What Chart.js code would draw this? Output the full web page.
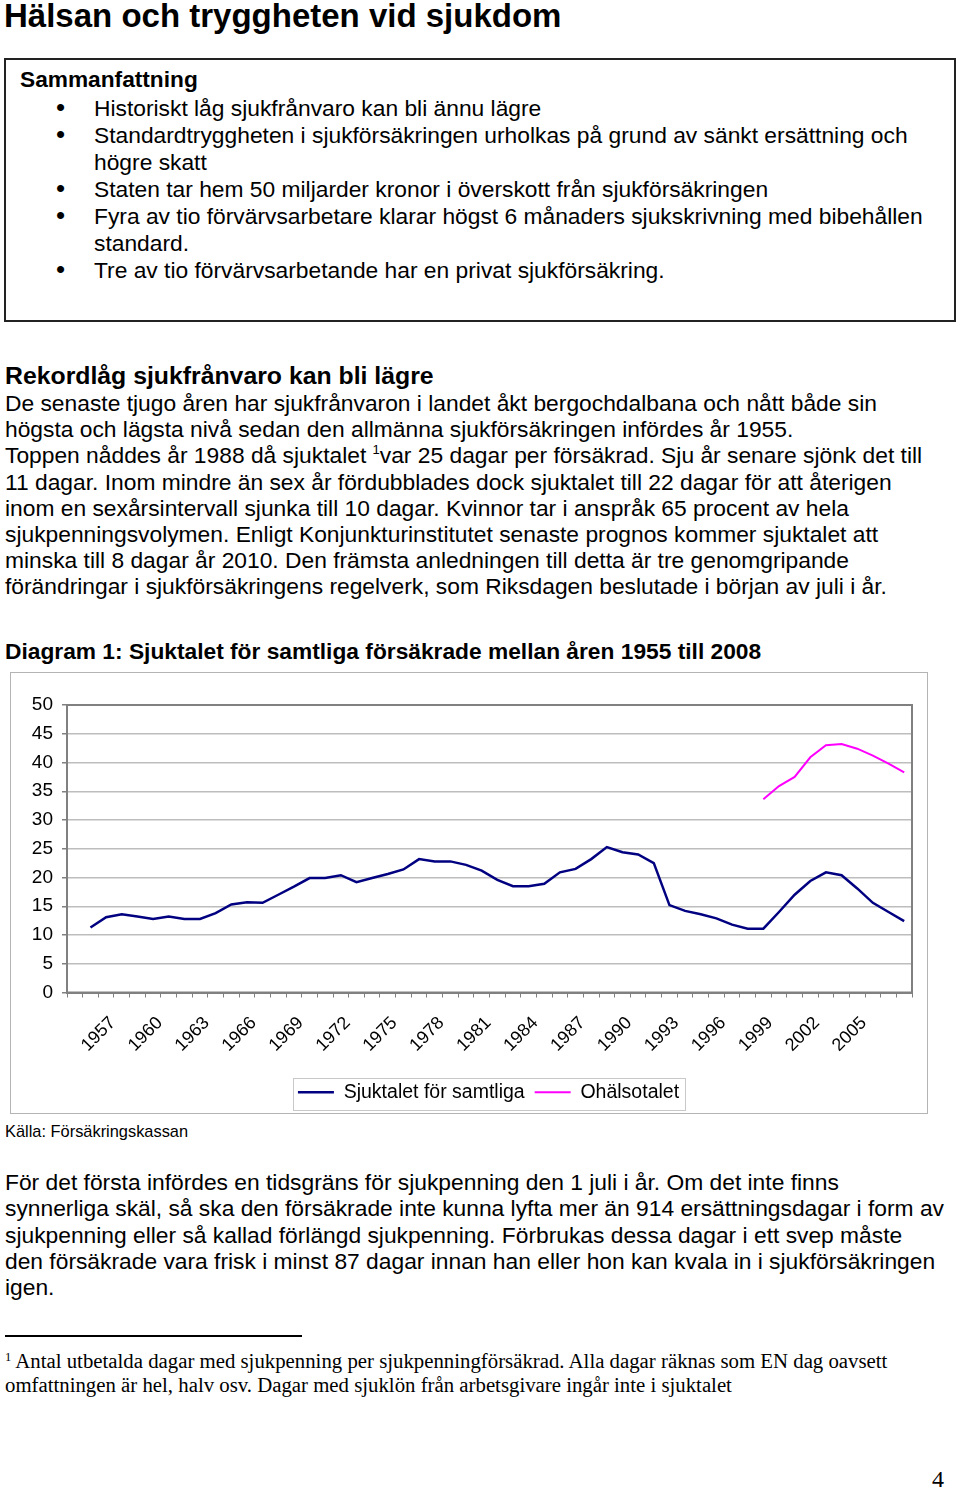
<!DOCTYPE html>
<html lang="sv">
<head>
<meta charset="utf-8">
<title>Hälsan och tryggheten vid sjukdom</title>
<script src="https://cdn.jsdelivr.net/npm/chart.js@4.4.1/dist/chart.umd.min.js"></script>
<style>
  html, body { margin: 0; padding: 0; background: #fff; }
  body { width: 960px; height: 1490px; position: relative; overflow: hidden;
         font-family: "Liberation Sans", Arial, sans-serif; color: #000; }
  .abs { position: absolute; white-space: nowrap; }
  .txt { font-size: 22.8px; line-height: 26.2px; }
  .b { font-weight: bold; }
  sup { font-size: 13px; line-height: 0; vertical-align: 9px; }
  #sammanfattning { left: 4px; top: 58px; width: 952px; height: 264px;
                    box-sizing: border-box; border: 2px solid #222; }
  .bullet { position: absolute; font-size: 26px; }
  #chartram { left: 10px; top: 672px; width: 918px; height: 442px;
              box-sizing: border-box; border: 1px solid #b4b4b4; }
  #chartwrap { position: absolute; left: 11px; top: 673px; width: 916px; height: 440px; }
  .serif { font-family: "Liberation Serif", "Times New Roman", serif; }
</style>
</head>
<body>

<div class="abs b" style="left:4px; top:0px; font-size:33px; line-height:32px;">Hälsan och tryggheten vid sjukdom</div>

<div class="abs" id="sammanfattning"></div>
<div class="abs b" style="left:20px; top:66px; font-size:22.7px; line-height:27px;">Sammanfattning</div>
<div class="abs txt" style="left:94px; top:95px; line-height:27px;">
  <span class="bullet" style="top:-1px; left:-38px;">•</span>Historiskt låg sjukfrånvaro kan bli ännu lägre<br>
  <span class="bullet" style="top:26px; left:-38px;">•</span>Standardtryggheten i sjukförsäkringen urholkas på grund av sänkt ersättning och<br>
  högre skatt<br>
  <span class="bullet" style="top:80px; left:-38px;">•</span>Staten tar hem 50 miljarder kronor i överskott från sjukförsäkringen<br>
  <span class="bullet" style="top:107px; left:-38px;">•</span>Fyra av tio förvärvsarbetare klarar högst 6 månaders sjukskrivning med bibehållen<br>
  standard.<br>
  <span class="bullet" style="top:161px; left:-38px;">•</span>Tre av tio förvärvsarbetande har en privat sjukförsäkring.
</div>

<div class="abs b" style="left:5px; top:362px; font-size:24.8px; line-height:27px;">Rekordlåg sjukfrånvaro kan bli lägre</div>
<div class="abs txt" style="left:5px; top:390px;">
De senaste tjugo åren har sjukfrånvaron i landet åkt bergochdalbana och nått både sin<br>
högsta och lägsta nivå sedan den allmänna sjukförsäkringen infördes år 1955.<br>
Toppen nåddes år 1988 då sjuktalet <sup>1</sup>var 25 dagar per försäkrad. Sju år senare sjönk det till<br>
11 dagar. Inom mindre än sex år fördubblades dock sjuktalet till 22 dagar för att återigen<br>
inom en sexårsintervall sjunka till 10 dagar. Kvinnor tar i anspråk 65 procent av hela<br>
sjukpenningsvolymen. Enligt Konjunkturinstitutet senaste prognos kommer sjuktalet att<br>
minska till 8 dagar år 2010. Den främsta anledningen till detta är tre genomgripande<br>
förändringar i sjukförsäkringens regelverk, som Riksdagen beslutade i början av juli i år.
</div>

<div class="abs b" style="left:5px; top:638px; font-size:22.75px; line-height:27px;">Diagram 1: Sjuktalet för samtliga försäkrade mellan åren 1955 till 2008</div>

<div class="abs" id="chartram"></div>
<div id="chartwrap"><canvas id="myChart" width="916" height="440"></canvas></div>

<div class="abs" style="left:5px; top:1121px; font-size:16.4px; line-height:20px;">Källa: Försäkringskassan</div>

<div class="abs txt" style="left:5px; top:1169px; line-height:26.3px;">
För det första infördes en tidsgräns för sjukpenning den 1 juli i år. Om det inte finns<br>
synnerliga skäl, så ska den försäkrade inte kunna lyfta mer än 914 ersättningsdagar i form av<br>
sjukpenning eller så kallad förlängd sjukpenning. Förbrukas dessa dagar i ett svep måste<br>
den försäkrade vara frisk i minst 87 dagar innan han eller hon kan kvala in i sjukförsäkringen<br>
igen.
</div>

<div class="abs" style="left:5px; top:1335px; width:297px; height:1.5px; background:#000;"></div>
<div class="abs serif" style="left:5px; top:1349px; font-size:20.8px; line-height:24px;">
<sup style="font-size:12.5px; vertical-align:7px;">1</sup> Antal utbetalda dagar med sjukpenning per sjukpenningförsäkrad. Alla dagar räknas som EN dag oavsett<br>
omfattningen är hel, halv osv. Dagar med sjuklön från arbetsgivare ingår inte i sjuktalet
</div>

<div class="abs serif" style="left:932px; top:1466px; font-size:24px; line-height:26px;">4</div>

<script>
// kategorier: första platsen är tom i originalet
const kategorier = ['', '1955', '1956', '1957', '1958', '1959', '1960', '1961', '1962', '1963',
  '1964', '1965', '1966', '1967', '1968', '1969', '1970', '1971', '1972', '1973', '1974',
  '1975', '1976', '1977', '1978', '1979', '1980', '1981', '1982', '1983', '1984', '1985',
  '1986', '1987', '1988', '1989', '1990', '1991', '1992', '1993', '1994', '1995', '1996',
  '1997', '1998', '1999', '2000', '2001', '2002', '2003', '2004', '2005', '2006', '2007'];

// sjuktalet 1955-2007
const sjuktal = [11.3, 13.1, 13.6, 13.2, 12.8, 13.2, 12.8, 12.8, 13.8, 15.3,
  15.7, 15.6, 17.0, 18.4, 19.9, 19.9, 20.4, 19.2, 19.9, 20.6,
  21.4, 23.2, 22.8, 22.8, 22.2, 21.2, 19.6, 18.5, 18.5, 18.9,
  20.9, 21.5, 23.2, 25.3, 24.4, 24.0, 22.5, 15.2, 14.2, 13.6,
  12.9, 11.8, 11.1, 11.1, 14.0, 17.0, 19.4, 20.9, 20.4, 18.1,
  15.6, 14.0, 12.4];

// ohälsotalet 1998-2007
const ohalsoAr = ['1998', '1999', '2000', '2001', '2002', '2003', '2004', '2005', '2006', '2007'];
const ohalsotal = [33.6, 35.9, 37.5, 40.9, 43.0, 43.2, 42.4, 41.2, 39.8, 38.3];

const tickAr = ['1957', '1960', '1963', '1966', '1969', '1972', '1975', '1978', '1981',
  '1984', '1987', '1990', '1993', '1996', '1999', '2002', '2005'];

const sjukPunkter = sjuktal.map((v, i) => ({x: kategorier[i + 1], y: v}));
const ohalsoPunkter = ohalsotal.map((v, i) => ({x: ohalsoAr[i], y: v}));

// legenden sitter lite till höger om mitten i originalet
const legendFlytt = 27;
const legendFont = 19.5;

// ram runt ritytan och legenden
const ramPlugin = {
  id: 'ram',
  afterUpdate(chart) {
    const lg = chart.legend;
    if (!lg) return;
    lg.left += legendFlytt;
    lg.right += legendFlytt;
  },
  afterDraw(chart) {
    const ctx = chart.ctx;
    const a = chart.chartArea;
    ctx.save();
    ctx.strokeStyle = '#808080';
    ctx.lineWidth = 2;
    ctx.strokeRect(a.left, a.top, a.right - a.left, a.bottom - a.top);
    const lg = chart.legend;
    if (lg && lg.lineWidths && lg.lineWidths.length) {
      const pad = lg.options.labels.padding;
      const w = lg.lineWidths[0];
      const x0 = (lg.left + pad + lg.right - w) / 2;
      const l = x0 - 5;
      const r = x0 + w - pad + 6;
      const t = lg.top + pad - 5;
      const b = lg.top + pad + legendFont * 1.2 + 4;
      ctx.strokeStyle = '#c8c8c8';
      ctx.lineWidth = 1;
      ctx.strokeRect(Math.round(l) + 0.5, Math.round(t) + 0.5, Math.round(r - l), Math.round(b - t));
    }
    ctx.restore();
  }
};

var ctx = document.getElementById('myChart').getContext('2d');

var myChart = new Chart(ctx, {
  type: 'line',
  data: {
    labels: kategorier,
    datasets: [{
      label: 'Sjuktalet för samtliga',
      data: sjukPunkter,
      borderColor: '#000080',
      backgroundColor: '#000080',
      borderWidth: 2.5,
      pointRadius: 0,
      tension: 0
    }, {
      label: 'Ohälsotalet',
      data: ohalsoPunkter,
      borderColor: '#ff00ff',
      backgroundColor: '#ff00ff',
      borderWidth: 2,
      pointRadius: 0,
      tension: 0
    }]
  },
  options: {
    responsive: false,
    animation: false,
    layout: { padding: { left: 0, right: 15, top: 32, bottom: 1 } },
    plugins: {
      tooltip: { enabled: false },
      legend: {
        position: 'bottom',
        labels: {
          color: '#000',
          font: { family: 'Liberation Sans', size: legendFont },
          usePointStyle: true,
          pointStyle: 'line',
          pointStyleWidth: 36,
          padding: 10
        }
      }
    },
    scales: {
      x: {
        offset: true,
        afterFit: (s) => { s.height = 80; s.paddingLeft = 0; s.paddingRight = 0; },
        grid: { offset: true, drawOnChartArea: false, drawTicks: true, tickLength: 5, color: '#808080' },
        border: { color: '#808080', width: 2 },
        ticks: {
          autoSkip: false,
          maxRotation: 45,
          minRotation: 45,
          labelOffset: -9,
          padding: 15,
          color: '#000',
          font: { family: 'Liberation Sans', size: 18 },
          callback: function (val) {
            const lab = this.getLabelForValue(val);
            return tickAr.includes(lab) ? lab : '';
          }
        }
      },
      y: {
        min: 0,
        max: 50,
        afterFit: (s) => { s.width = 56; s.paddingTop = 0; s.paddingBottom = 0; },
        grid: { color: '#bdbdbd', lineWidth: 1.5, tickLength: 5, tickColor: '#808080' },
        border: { color: '#808080', width: 2 },
        ticks: {
          stepSize: 5,
          padding: 9,
          color: '#000',
          font: { family: 'Liberation Sans', size: 19 }
        }
      }
    }
  },
  plugins: [ramPlugin]
});
</script>
</body>
</html>
